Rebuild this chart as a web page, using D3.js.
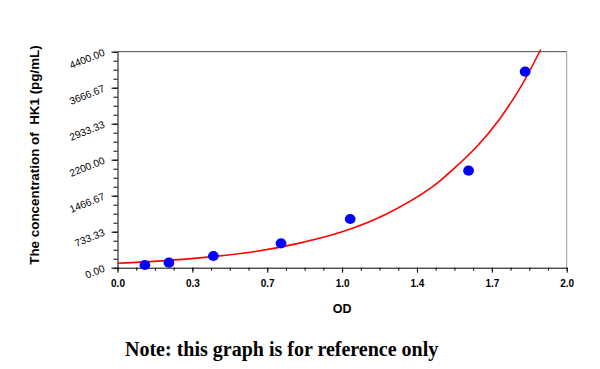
<!DOCTYPE html>
<html>
<head>
<meta charset="utf-8">
<script src="https://cdn.jsdelivr.net/npm/d3@7"></script>
<style>
html,body{margin:0;padding:0;background:#fff;}
svg{display:block;}
</style>
</head>
<body>
<svg id="chart" width="600" height="369"></svg>
<script>
// ---- data ----
const pointOD   = [0.122, 0.229, 0.427, 0.728, 1.036, 1.563, 1.815];
const pointConc = [55, 102, 238, 497, 992, 1976, 3993];

const curveOD   = [0, 0.2, 0.4, 0.6, 0.8, 1.0, 1.2, 1.4, 1.5, 1.6, 1.7, 1.8, 1.884];
const curveConc = [90, 140, 215, 320, 490, 730, 1100, 1640, 2030, 2470, 3020, 3720, 4445];

const xTickValues = [0, 1/3, 2/3, 1, 4/3, 5/3, 2];
const xTickLabels = ["0.0", "0.3", "0.7", "1.0", "1.4", "1.7", "2.0"];
const yTickValues = [0, 733.33, 1466.67, 2200, 2933.33, 3666.67, 4400];
const yTickLabels = ["0.00", "733.33", "1466.67", "2200.00", "2933.33", "3666.67", "4400.00"];

const xTitle = "OD";
const yTitle = "The concentration of\u00a0\u00a0HK1 (pg/mL)";
const note = "Note: this graph is for reference only";

// ---- layout ----
const plotLeft = 117.5, plotRight = 566.7, plotTop = 51.7, plotBottom = 267.7;
const svg = d3.select("#chart");

const x = d3.scaleLinear().domain([0, 2]).range([plotLeft, plotRight]);
const y = d3.scaleLinear().domain([0, 4400]).range([plotBottom, plotTop]);

// frame (top & right)
svg.append("line").attr("x1", plotLeft).attr("x2", plotRight).attr("y1", plotTop).attr("y2", plotTop)
  .attr("stroke", "#444").attr("stroke-width", 1);
svg.append("line").attr("x1", plotRight).attr("x2", plotRight).attr("y1", plotTop).attr("y2", plotBottom)
  .attr("stroke", "#999").attr("stroke-width", 1);

// minor ticks
const xMinor = d3.range(0, 25).map(i => i * 2 / 24);
const yMinor = d3.range(0, 25).map(i => i * 4400 / 24);

const xAxisMinor = d3.axisBottom(x).tickValues(xMinor).tickSize(3).tickFormat("");
const yAxisMinor = d3.axisLeft(y).tickValues(yMinor).tickSize(4).tickFormat("");
svg.append("g").attr("transform", `translate(0,${plotBottom})`).call(xAxisMinor)
  .call(g => g.select(".domain").remove());
svg.append("g").attr("transform", `translate(${plotLeft},0)`).call(yAxisMinor)
  .call(g => g.select(".domain").remove());

// major axes
const xAxis = d3.axisBottom(x).tickValues(xTickValues).tickSize(5).tickSizeOuter(0)
  .tickFormat((d, i) => xTickLabels[i]);
const yAxis = d3.axisLeft(y).tickValues(yTickValues).tickSize(6).tickSizeOuter(0)
  .tickFormat((d, i) => yTickLabels[i]);

const gx = svg.append("g").attr("transform", `translate(0,${plotBottom})`).call(xAxis);
gx.selectAll("text").attr("font-family", "Liberation Sans, Arial, sans-serif")
  .attr("font-size", "10px").attr("font-weight", "bold").attr("fill", "#000")
  .attr("y", 12);

const gy = svg.append("g").attr("transform", `translate(${plotLeft},0)`).call(yAxis);
gy.selectAll("text").attr("font-family", "Liberation Sans, Arial, sans-serif")
  .attr("font-size", "10.2px").attr("font-weight", "normal").attr("fill", "#000")
  .attr("x", null).attr("dy", null)
  .attr("text-anchor", "end")
  .attr("transform", "translate(-12,3) rotate(-22)");

svg.selectAll(".domain").attr("stroke", "#000");
svg.selectAll(".tick line").attr("stroke", "#000");

// curve
const curveData = curveOD.map((d, i) => [d, curveConc[i]]);
svg.append("path")
  .datum(curveData)
  .attr("fill", "none")
  .attr("stroke", "#ff0000")
  .attr("stroke-width", 1.6)
  .attr("d", d3.line().x(d => x(d[0])).y(d => y(d[1])).curve(d3.curveCatmullRom.alpha(0.5)));

// points
svg.append("g").selectAll("ellipse")
  .data(pointOD.map((d, i) => [d, pointConc[i]]))
  .join("ellipse")
  .attr("cx", d => x(d[0])).attr("cy", d => y(d[1]))
  .attr("rx", 5.4).attr("ry", 5.1)
  .attr("fill", "#0000ff");

// titles
svg.append("text")
  .attr("x", (plotLeft + plotRight) / 2).attr("y", 313)
  .attr("text-anchor", "middle")
  .attr("font-family", "Liberation Sans, Arial, sans-serif")
  .attr("font-size", "12.5px").attr("font-weight", "bold")
  .text(xTitle);

svg.append("text")
  .attr("transform", `translate(39,155) rotate(-90)`)
  .attr("text-anchor", "middle")
  .attr("font-family", "Liberation Sans, Arial, sans-serif")
  .attr("font-size", "13.4px").attr("font-weight", "bold")
  .text(yTitle);

svg.append("text")
  .attr("x", 125).attr("y", 356)
  .attr("font-family", "Liberation Serif, serif")
  .attr("font-size", "20px").attr("font-weight", "bold")
  .text(note);
</script>
</body>
</html>
